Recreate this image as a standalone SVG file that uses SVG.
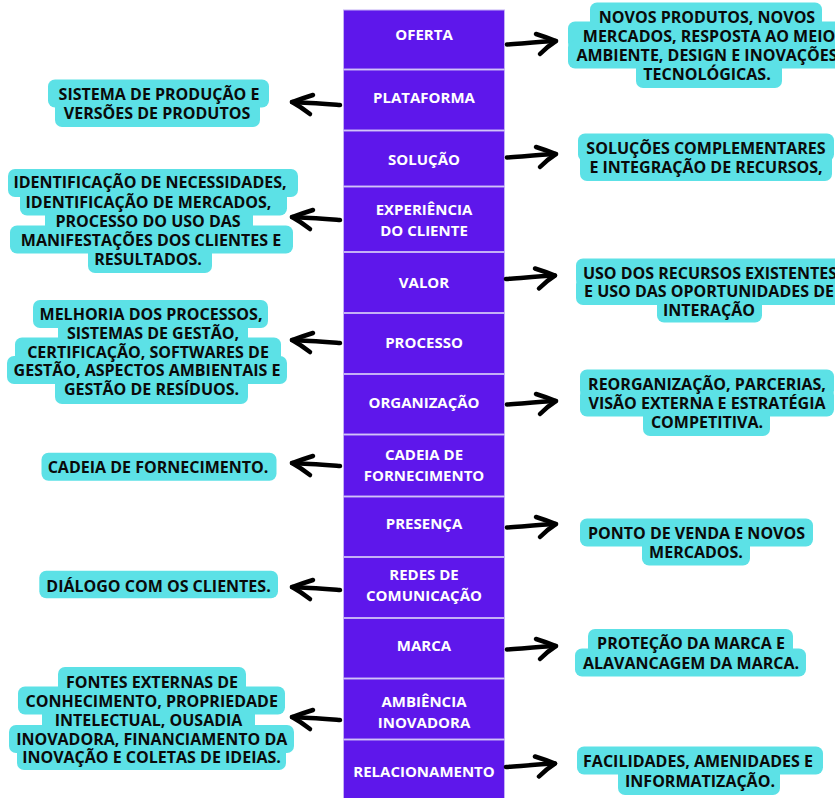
<svg xmlns="http://www.w3.org/2000/svg" xmlns:xlink="http://www.w3.org/1999/xlink" width="835" height="798" viewBox="0 0 835 798">
  <style>
    .cell { fill: #5e17eb; stroke: #c4b0f6; stroke-width: 1; }
    .cell-t { fill: #ffffff; font-family: "Open Sans", "Noto Sans", sans-serif; font-weight: 700; font-size: 15px; text-anchor: middle; }
    .hl { fill: #5ce1e6; }
    .lbl { fill: #0a0a0a; font-family: "Open Sans", "Noto Sans", sans-serif; font-weight: 700; font-size: 16px; text-anchor: middle; }
    .arrow { fill: none; stroke: #000000; stroke-width: 4.5; stroke-linecap: round; stroke-linejoin: round; }
  </style>
  <defs>
    <!-- hand-drawn arrows, origin at the tip -->
    <g id="arrowR">
      <path class="arrow" d="M -49 3.5 C -35 2.5 -15 0.8 0 0"/>
      <path class="arrow" d="M -20 -7 Q -9 -3.5 0 0 Q -8 5 -16 13"/>
    </g>
    <g id="arrowL">
      <path class="arrow" d="M 48 3 C 34 2 15 0.6 0 0"/>
      <path class="arrow" d="M 21 -7 Q 10 -3.5 0 0 Q 9 5 18 12"/>
    </g>
  </defs>

  <rect width="835" height="798" fill="#ffffff"/>

  <!-- central column -->
  <g id="node-oferta"><rect class="cell" x="343.5" y="10" width="161" height="59"/><text class="cell-t" x="424" y="40">OFERTA</text></g>
  <g id="node-plataforma"><rect class="cell" x="343.5" y="70" width="161" height="60"/><text class="cell-t" x="424" y="103">PLATAFORMA</text></g>
  <g id="node-solucao"><rect class="cell" x="343.5" y="131" width="161" height="55"/><text class="cell-t" x="424" y="164.5">SOLUÇÃO</text></g>
  <g id="node-experiencia"><rect class="cell" x="343.5" y="187" width="161" height="64.5"/><text class="cell-t" x="424" y="215">EXPERIÊNCIA</text><text class="cell-t" x="424" y="236">DO CLIENTE</text></g>
  <g id="node-valor"><rect class="cell" x="343.5" y="252.5" width="161" height="60"/><text class="cell-t" x="424" y="287.5">VALOR</text></g>
  <g id="node-processo"><rect class="cell" x="343.5" y="313.5" width="161" height="60"/><text class="cell-t" x="424" y="348">PROCESSO</text></g>
  <g id="node-organizacao"><rect class="cell" x="343.5" y="374.5" width="161" height="59.5"/><text class="cell-t" x="424" y="408">ORGANIZAÇÃO</text></g>
  <g id="node-cadeia"><rect class="cell" x="343.5" y="435" width="161" height="61"/><text class="cell-t" x="424" y="460">CADEIA DE</text><text class="cell-t" x="424" y="481">FORNECIMENTO</text></g>
  <g id="node-presenca"><rect class="cell" x="343.5" y="497" width="161" height="59.5"/><text class="cell-t" x="424" y="529">PRESENÇA</text></g>
  <g id="node-redes"><rect class="cell" x="343.5" y="557.5" width="161" height="60"/><text class="cell-t" x="424" y="580">REDES DE</text><text class="cell-t" x="424" y="601">COMUNICAÇÃO</text></g>
  <g id="node-marca"><rect class="cell" x="343.5" y="618.5" width="161" height="59.5"/><text class="cell-t" x="424" y="650.5">MARCA</text></g>
  <g id="node-ambiencia"><rect class="cell" x="343.5" y="679" width="161" height="60"/><text class="cell-t" x="424" y="706.5">AMBIÊNCIA</text><text class="cell-t" x="424" y="728">INOVADORA</text></g>
  <g id="node-relacionamento"><rect class="cell" x="343.5" y="740" width="161" height="60"/><text class="cell-t" x="424" y="776.5">RELACIONAMENTO</text></g>

  <!-- right-hand labels -->
  <g id="label-oferta">
    <rect class="hl" x="590" y="2.5" width="232" height="28" rx="7"/>
    <rect class="hl" x="568" y="21.5" width="275" height="28" rx="7"/>
    <rect class="hl" x="568" y="40.5" width="275" height="28" rx="7"/>
    <rect class="hl" x="636" y="59.5" width="146" height="28.5" rx="7"/>
    <text class="lbl" x="707" y="22.5">NOVOS PRODUTOS, NOVOS</text>
    <text class="lbl" x="709" y="41.5">MERCADOS, RESPOSTA AO MEIO</text>
    <text class="lbl" x="707" y="60.5">AMBIENTE, DESIGN E INOVAÇÕES</text>
    <text class="lbl" x="707" y="79.5">TECNOLÓGICAS.</text>
  </g>
  <g id="label-solucao">
    <rect class="hl" x="578" y="133.5" width="256" height="28" rx="7"/>
    <rect class="hl" x="580" y="152.5" width="252" height="28.5" rx="7"/>
    <text class="lbl" x="706" y="153.5">SOLUÇÕES COMPLEMENTARES</text>
    <text class="lbl" x="706" y="172.5">E INTEGRAÇÃO DE RECURSOS,</text>
  </g>
  <g id="label-valor">
    <rect class="hl" x="576" y="258.5" width="270" height="28" rx="7"/>
    <rect class="hl" x="576" y="277" width="270" height="28" rx="7"/>
    <rect class="hl" x="657" y="295.5" width="105" height="27" rx="7"/>
    <text class="lbl" x="710" y="278.5">USO DOS RECURSOS EXISTENTES</text>
    <text class="lbl" x="709" y="297">E USO DAS OPORTUNIDADES DE</text>
    <text class="lbl" x="709" y="315.5">INTERAÇÃO</text>
  </g>
  <g id="label-organizacao">
    <rect class="hl" x="580" y="369.5" width="254" height="28" rx="7"/>
    <rect class="hl" x="580" y="388.5" width="254" height="28" rx="7"/>
    <rect class="hl" x="643" y="407.5" width="127" height="28.5" rx="7"/>
    <text class="lbl" x="707" y="389.5">REORGANIZAÇÃO, PARCERIAS,</text>
    <text class="lbl" x="707" y="408.5">VISÃO EXTERNA E ESTRATÉGIA</text>
    <text class="lbl" x="707" y="427.5">COMPETITIVA.</text>
  </g>
  <g id="label-presenca">
    <rect class="hl" x="580" y="518.5" width="233" height="28" rx="7"/>
    <rect class="hl" x="642" y="537.5" width="108" height="28" rx="7"/>
    <text class="lbl" x="696.5" y="538.5">PONTO DE VENDA E NOVOS</text>
    <text class="lbl" x="696" y="557.5">MERCADOS.</text>
  </g>
  <g id="label-marca">
    <rect class="hl" x="588" y="629" width="205" height="28" rx="7"/>
    <rect class="hl" x="575" y="648.5" width="231" height="28" rx="7"/>
    <text class="lbl" x="691" y="649">PROTEÇÃO DA MARCA E</text>
    <text class="lbl" x="691" y="668.5">ALAVANCAGEM DA MARCA.</text>
  </g>
  <g id="label-relacionamento">
    <rect class="hl" x="577" y="746.5" width="246" height="28" rx="7"/>
    <rect class="hl" x="618" y="766.5" width="162" height="28.5" rx="7"/>
    <text class="lbl" x="698" y="766.7">FACILIDADES, AMENIDADES E</text>
    <text class="lbl" x="700" y="786.7">INFORMATIZAÇÃO.</text>
  </g>

  <!-- left-hand labels -->
  <g id="label-plataforma">
    <rect class="hl" x="48" y="79.5" width="221" height="28" rx="7"/>
    <rect class="hl" x="55" y="99" width="205" height="28" rx="7"/>
    <text class="lbl" x="159" y="99.5">SISTEMA DE PRODUÇÃO E</text>
    <text class="lbl" x="157" y="119">VERSÕES DE PRODUTOS</text>
  </g>
  <g id="label-experiencia">
    <rect class="hl" x="8" y="169" width="290" height="28" rx="7"/>
    <rect class="hl" x="20" y="187.5" width="267" height="28" rx="7"/>
    <rect class="hl" x="45" y="206.5" width="208" height="28" rx="7"/>
    <rect class="hl" x="10" y="225.5" width="283" height="28" rx="7"/>
    <rect class="hl" x="88" y="244.5" width="124" height="28.5" rx="7"/>
    <text class="lbl" x="150" y="188.3">IDENTIFICAÇÃO DE NECESSIDADES,</text>
    <text class="lbl" x="148.5" y="207.5">IDENTIFICAÇÃO DE MERCADOS,</text>
    <text class="lbl" x="148" y="226.5">PROCESSO DO USO DAS</text>
    <text class="lbl" x="151" y="245.5">MANIFESTAÇÕES DOS CLIENTES E</text>
    <text class="lbl" x="148" y="264.5">RESULTADOS.</text>
  </g>
  <g id="label-processo">
    <rect class="hl" x="33" y="300" width="235" height="28" rx="7"/>
    <rect class="hl" x="58" y="319" width="190" height="28" rx="7"/>
    <rect class="hl" x="15" y="337.5" width="266" height="28" rx="7"/>
    <rect class="hl" x="7" y="356" width="280" height="28" rx="7"/>
    <rect class="hl" x="55" y="374.5" width="193" height="29.5" rx="7"/>
    <text class="lbl" x="151" y="320">MELHORIA DOS PROCESSOS,</text>
    <text class="lbl" x="153" y="339">SISTEMAS DE GESTÃO,</text>
    <text class="lbl" x="148" y="357.5">CERTIFICAÇÃO, SOFTWARES DE</text>
    <text class="lbl" x="147" y="376">GESTÃO, ASPECTOS AMBIENTAIS E</text>
    <text class="lbl" x="151.5" y="394.5">GESTÃO DE RESÍDUOS.</text>
  </g>
  <g id="label-cadeia">
    <rect class="hl" x="41.5" y="452.7" width="235" height="28" rx="7"/>
    <text class="lbl" x="158" y="473.3">CADEIA DE FORNECIMENTO.</text>
  </g>
  <g id="label-redes">
    <rect class="hl" x="39.3" y="570.7" width="238.7" height="27.6" rx="7"/>
    <text class="lbl" x="158.5" y="591.7">DIÁLOGO COM OS CLIENTES.</text>
  </g>
  <g id="label-ambiencia">
    <rect class="hl" x="58" y="667" width="188" height="28" rx="7"/>
    <rect class="hl" x="18" y="686.5" width="267" height="28" rx="7"/>
    <rect class="hl" x="42" y="705.5" width="213" height="28" rx="7"/>
    <rect class="hl" x="9" y="725" width="285" height="28" rx="7"/>
    <rect class="hl" x="17" y="742.5" width="269" height="27.5" rx="7"/>
    <text class="lbl" x="152" y="688.3">FONTES EXTERNAS DE</text>
    <text class="lbl" x="151.7" y="706.7">CONHECIMENTO, PROPRIEDADE</text>
    <text class="lbl" x="148.5" y="725.7">INTELECTUAL, OUSADIA</text>
    <text class="lbl" x="151.7" y="745">INOVADORA, FINANCIAMENTO DA</text>
    <text class="lbl" x="151.5" y="762.7">INOVAÇÃO E COLETAS DE IDEIAS.</text>
  </g>

  <!-- connectors -->
  <g id="connectors">
    <use xlink:href="#arrowR" transform="translate(556 41)"/>
    <use xlink:href="#arrowL" transform="translate(292 102)"/>
    <use xlink:href="#arrowR" transform="translate(556 154)"/>
    <use xlink:href="#arrowL" transform="translate(292 217)"/>
    <use xlink:href="#arrowR" transform="translate(555 275.5)"/>
    <use xlink:href="#arrowL" transform="translate(292 340)"/>
    <use xlink:href="#arrowR" transform="translate(556 401)"/>
    <use xlink:href="#arrowL" transform="translate(292 463)"/>
    <use xlink:href="#arrowR" transform="translate(556 524)"/>
    <use xlink:href="#arrowL" transform="translate(292 587)"/>
    <use xlink:href="#arrowR" transform="translate(556 646)"/>
    <use xlink:href="#arrowL" transform="translate(292 717)"/>
    <use xlink:href="#arrowR" transform="translate(555 763.5)"/>
  </g>
</svg>
